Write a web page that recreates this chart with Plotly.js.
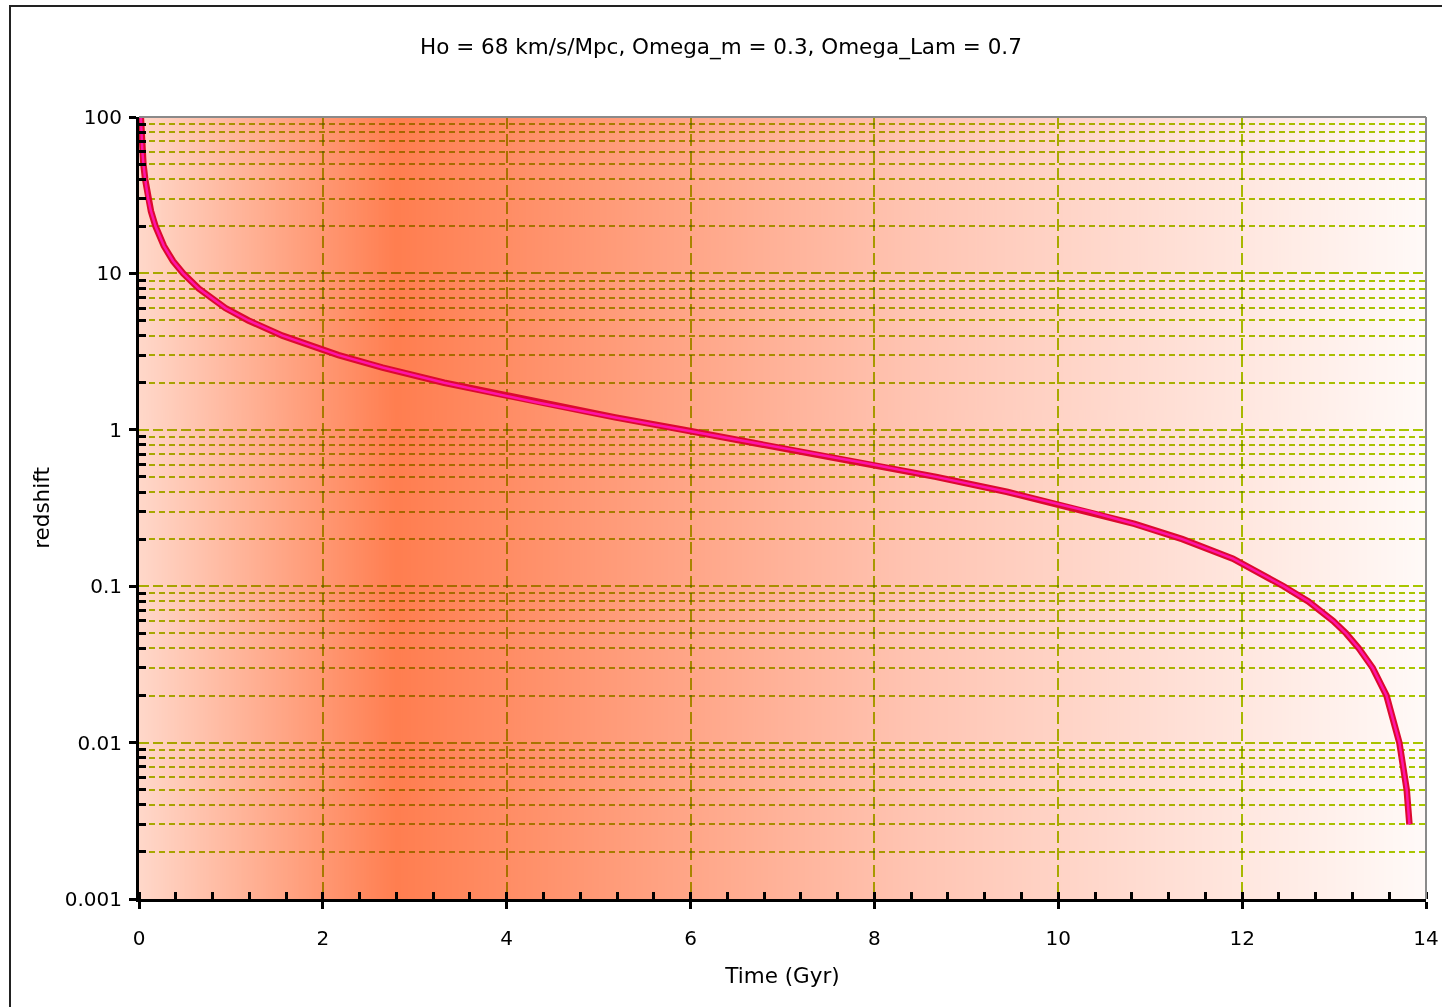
<!DOCTYPE html>
<html>
<head>
<meta charset="utf-8">
<script src="https://cdn.plot.ly/plotly-3.0.1.min.js"></script>
<style>
  html, body { margin: 0; padding: 0; background: #fff; }
  #chart { width: 1442px; height: 1007px; }
  .js-plotly-plot .gridlayer path, .js-plotly-plot .minor-gridlayer path { mix-blend-mode: multiply; }
</style>
</head>
<body>
<div id="chart"></div>
<script>
// Data: age of the universe (Gyr) vs redshift
const redshift = [100, 80, 60, 50, 40, 30, 25, 20, 15, 12, 10, 8, 6, 5, 4, 3, 2.5, 2, 1.5, 1.2, 1,
  0.8, 0.6, 0.5, 0.4, 0.3, 0.25, 0.2, 0.15, 0.1, 0.08, 0.06, 0.05, 0.04, 0.03, 0.02, 0.01, 0.005, 0.003];
const timeGyr = [0.02, 0.025, 0.037, 0.048, 0.067, 0.10, 0.13, 0.18, 0.27, 0.37, 0.48, 0.65, 0.94, 1.19, 1.56, 2.17, 2.65, 3.32, 4.32, 5.18, 5.92,
  6.83, 7.98, 8.67, 9.45, 10.34, 10.83, 11.35, 11.90, 12.45, 12.72, 12.99, 13.13, 13.27, 13.42, 13.57, 13.71, 13.79, 13.82];
const xTickVals = [0, 2, 4, 6, 8, 10, 12, 14];
const yTickVals = [0.001, 0.01, 0.1, 1, 10, 100];
const yTickText = ['0.001', '0.01', '0.1', '1', '10', '100'];
const yMinorVals = [];
[0.001, 0.01, 0.1, 1, 10].forEach(d => { for (let k = 2; k <= 9; k++) yMinorVals.push(+(d * k).toPrecision(3)); });
const titleText = 'Ho = 68 km/s/Mpc, Omega_m = 0.3, Omega_Lam = 0.7';

// background gradient image
const cv = document.createElement('canvas');
cv.width = 1400; cv.height = 4;
const ctx = cv.getContext('2d');
const g = ctx.createLinearGradient(0, 0, 1400, 0);
g.addColorStop(0, 'rgb(255,216,202)');
g.addColorStop(0.2, 'rgb(255,126,80)');
g.addColorStop(0.6, 'rgb(255,196,178)');
g.addColorStop(1, 'rgb(255,250,248)');
ctx.fillStyle = g; ctx.fillRect(0, 0, 1400, 4);
const bgUrl = cv.toDataURL('image/png');

const W = 1442, H = 1007, ml = 139, mr = 16, mt = 117, mb = 108;
const pw = W - ml - mr, ph = H - mt - mb;
const px = v => (v - ml) / pw;
const py = v => (H - mb - v) / ph;

const font = 'DejaVu Sans, Verdana, sans-serif';
const gridC = '#a8cc00';

const traces = [
  { x: timeGyr, y: redshift, mode: 'lines', type: 'scatter', line: { color: '#dc0a2e', width: 6.5 }, hoverinfo: 'skip' },
  { x: timeGyr, y: redshift, mode: 'lines', type: 'scatter', line: { color: '#ff14a8', width: 2.5 } }
];

const layout = {
  width: W, height: H,
  margin: { l: ml, r: mr, t: mt, b: mb },
  paper_bgcolor: '#ffffff',
  plot_bgcolor: 'rgba(0,0,0,0)',
  showlegend: false,
  font: { family: font, color: '#000', size: 20 },
  title: { text: titleText, font: { family: font, size: 21.5, color: '#000' }, x: 0.5, xanchor: 'center', xref: 'container', y: 1 - 46 / H, yanchor: 'middle', yref: 'container' },
  xaxis: {
    range: [0, 14], tickvals: xTickVals, ticks: 'outside', ticklen: 7, tickwidth: 3, tickcolor: '#000',
    ticklabelstandoff: 12,
    showline: true, linecolor: '#000', linewidth: 3, zeroline: false,
    showgrid: true, gridcolor: gridC, gridwidth: 2, griddash: '12px,5px',
    minor: { dtick: 0.4, ticks: 'inside', ticklen: 7, tickwidth: 3, tickcolor: '#000', showgrid: false },
    title: { text: 'Time (Gyr)', font: { family: font, size: 21.5 }, standoff: 19 },
    tickfont: { family: font, size: 20 }
  },
  yaxis: {
    type: 'log', range: [-3, 2], tickvals: yTickVals, ticktext: yTickText, ticks: 'outside', ticklen: 7, tickwidth: 3, tickcolor: '#000',
    ticklabelstandoff: 3,
    showline: true, linecolor: '#000', linewidth: 3, zeroline: false,
    showgrid: true, gridcolor: gridC, gridwidth: 2, griddash: '10px,4px',
    minor: { tickvals: yMinorVals, ticks: 'inside', ticklen: 7, tickwidth: 3, tickcolor: '#000', showgrid: true, gridcolor: gridC, gridwidth: 2, griddash: '6px,4px' },
    title: { text: 'redshift', font: { family: font, size: 21.5 }, standoff: 10 },
    tickfont: { family: font, size: 20 }
  },
  xaxis2: {
    overlaying: 'x', anchor: 'y', side: 'bottom', range: [0, 14], tickvals: xTickVals, ticks: 'inside', ticklen: 7, tickwidth: 3, tickcolor: '#000',
    showticklabels: false, showgrid: false, showline: false, zeroline: false
  },
  yaxis2: {
    overlaying: 'y', anchor: 'x', side: 'left', type: 'log', range: [-3, 2], tickvals: yTickVals, ticks: 'inside', ticklen: 7, tickwidth: 3, tickcolor: '#000',
    showticklabels: false, showgrid: false, showline: false, zeroline: false
  },
  images: [{ source: bgUrl, xref: 'x', yref: 'paper', x: 0, y: 1, sizex: 14, sizey: 1, sizing: 'stretch', layer: 'below', xanchor: 'left', yanchor: 'top' }],
  shapes: [
    { type: 'line', xref: 'paper', yref: 'paper', x0: 0, x1: 1, y0: 1, y1: 1, line: { color: '#8a8a8a', width: 2 } },
    { type: 'line', xref: 'paper', yref: 'paper', x0: 1, x1: 1, y0: 0, y1: 1, line: { color: '#8a8a8a', width: 2 } },
    { type: 'line', xref: 'paper', yref: 'paper', x0: px(10), x1: px(10), y0: py(5), y1: py(H + 5), line: { color: '#222', width: 2 } },
    { type: 'line', xref: 'paper', yref: 'paper', x0: px(9), x1: px(W + 5), y0: py(6), y1: py(6), line: { color: '#222', width: 2 } }
  ]
};

Plotly.newPlot('chart', traces, layout, { displayModeBar: false, staticPlot: true });
</script>
</body>
</html>
